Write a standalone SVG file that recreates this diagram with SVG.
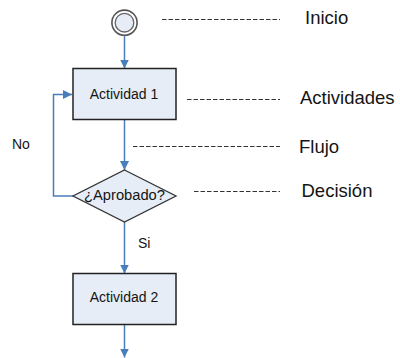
<svg xmlns="http://www.w3.org/2000/svg" width="400" height="358" viewBox="0 0 400 358">
<style>
.bg{fill:#ffffff}
.box{fill:#E6EDF7;stroke:#222222;stroke-width:1.5}
.dia{fill:#E6EDF7;stroke:#333333;stroke-width:1.3}
.flow{fill:none;stroke:#4A7EBB;stroke-width:1.5}
.dash{fill:none;stroke:#333333;stroke-width:1;stroke-dasharray:4.5 2}
.t{font-family:"Liberation Sans",Arial,sans-serif;fill:#141414}
.node{font-size:14px;text-anchor:middle}
.lab{font-size:14px}
.leg{font-size:18.5px}
</style>
<defs>
<marker id="ah" markerUnits="userSpaceOnUse" markerWidth="10" markerHeight="10" refX="9" refY="5" orient="auto">
<path d="M0,0.5 L9,5 L0,9.5 z" fill="#4A7EBB"/>
</marker>
</defs>
<rect class="bg" x="0" y="0" width="400" height="358"/>
<g id="connectors">
<line class="flow" x1="124.5" y1="35.5" x2="124.5" y2="68.5" marker-end="url(#ah)"/>
<line class="flow" x1="124.5" y1="119.5" x2="124.5" y2="170" marker-end="url(#ah)"/>
<polyline class="flow" points="73,196 53.5,196 53.5,94.5 72,94.5" marker-end="url(#ah)"/>
<line class="flow" x1="124.5" y1="222" x2="124.5" y2="273.5" marker-end="url(#ah)"/>
<line class="flow" x1="124.5" y1="324.5" x2="124.5" y2="357.5" marker-end="url(#ah)"/>
<text class="t lab" x="12" y="149">No</text>
<text class="t lab" x="138" y="248.3">Si</text>
</g>
<g id="inicio">
<circle cx="124.5" cy="22.7" r="12.6" fill="#ffffff" stroke="#555555" stroke-width="1.6"/>
<circle cx="124.5" cy="22.7" r="9.3" fill="#E6EDF7" stroke="#666666" stroke-width="1.3"/>
</g>
<g id="actividad1">
<rect class="box" x="73" y="68.5" width="103" height="51"/>
<text class="t node" x="124" y="98.7">Actividad 1</text>
</g>
<g id="aprobado">
<polygon class="dia" points="124.5,170 176,196 124.5,222 73,196"/>
<text class="t node" x="124.5" y="200" textLength="81" lengthAdjust="spacingAndGlyphs">¿Aprobado?</text>
</g>
<g id="actividad2">
<rect class="box" x="73" y="273.5" width="103" height="51"/>
<text class="t node" x="124" y="302.3">Actividad 2</text>
</g>
<g id="legend">
<line class="dash" x1="162" y1="19.5" x2="280" y2="19.5"/>
<text class="t leg" x="305" y="24">Inicio</text>
<line class="dash" x1="187" y1="99.5" x2="280" y2="99.5"/>
<text class="t leg" x="300" y="103.5">Actividades</text>
<line class="dash" x1="133" y1="146.5" x2="280" y2="146.5"/>
<text class="t leg" x="299" y="152.5">Flujo</text>
<line class="dash" x1="194" y1="191.5" x2="280" y2="191.5"/>
<text class="t leg" x="301.5" y="196.7">Decisión</text>
</g>
</svg>
